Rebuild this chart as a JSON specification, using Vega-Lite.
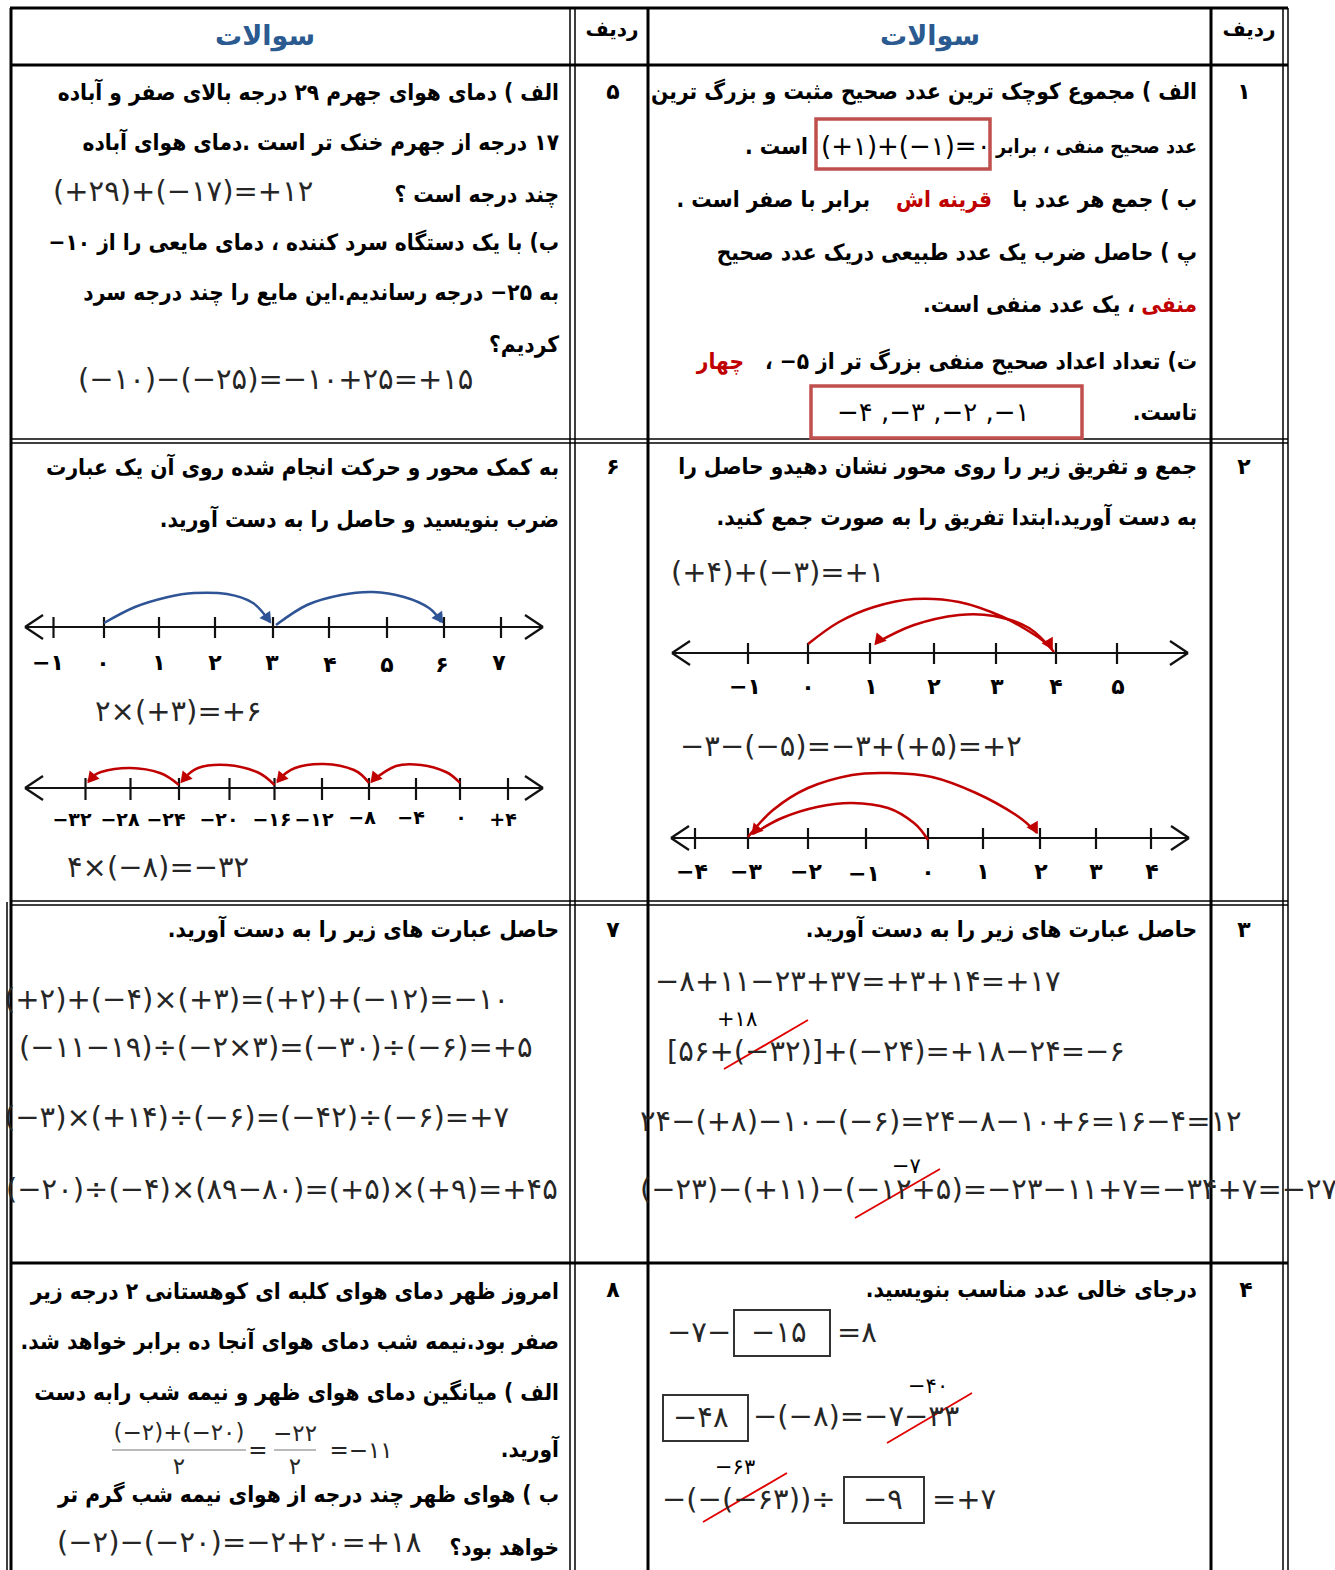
{
"$schema":"https://vega.github.io/schema/vega-lite/v6.json",
"width":1335,"height":1570,"autosize":{"type":"none"},"padding":0,"background":"white",
"config":{"view":{"stroke":null}},
"datasets":{
"rules":[
{"x":10,"y":8,"x2":1288,"y2":8,"k":"t3"},
{"x":10,"y":65,"x2":1288,"y2":65,"k":"t3"},
{"x":10,"y":1263,"x2":1288,"y2":1263,"k":"t3"},
{"x":11,"y":8,"x2":11,"y2":1570,"k":"t3"},
{"x":648,"y":8,"x2":648,"y2":1570,"k":"t3"},
{"x":1211,"y":8,"x2":1211,"y2":1570,"k":"t3"},
{"x":10,"y":439,"x2":1288,"y2":439,"k":"t15"},
{"x":10,"y":443,"x2":1288,"y2":443,"k":"t15"},
{"x":10,"y":901,"x2":1288,"y2":901,"k":"t15"},
{"x":10,"y":905,"x2":1288,"y2":905,"k":"t15"},
{"x":570,"y":8,"x2":570,"y2":1570,"k":"t15"},
{"x":575,"y":8,"x2":575,"y2":1570,"k":"t15"},
{"x":1283,"y":8,"x2":1283,"y2":1570,"k":"t15"},
{"x":1288,"y":8,"x2":1288,"y2":1570,"k":"t15"},
{"x":7,"y":902,"x2":7,"y2":1570,"k":"t15"},
{"x":672,"y":653,"x2":1188,"y2":653,"k":"nl"},
{"x":672,"y":653,"x2":690,"y2":641,"k":"nl"},
{"x":672,"y":653,"x2":690,"y2":665,"k":"nl"},
{"x":1188,"y":653,"x2":1170,"y2":641,"k":"nl"},
{"x":1188,"y":653,"x2":1170,"y2":665,"k":"nl"},
{"x":748,"y":643,"x2":748,"y2":664,"k":"nl"},
{"x":808,"y":643,"x2":808,"y2":664,"k":"nl"},
{"x":870,"y":643,"x2":870,"y2":664,"k":"nl"},
{"x":934,"y":643,"x2":934,"y2":664,"k":"nl"},
{"x":996,"y":643,"x2":996,"y2":664,"k":"nl"},
{"x":1056,"y":643,"x2":1056,"y2":664,"k":"nl"},
{"x":1117,"y":643,"x2":1117,"y2":664,"k":"nl"},
{"x":671,"y":838,"x2":1189,"y2":838,"k":"nl"},
{"x":671,"y":838,"x2":689,"y2":826,"k":"nl"},
{"x":671,"y":838,"x2":689,"y2":850,"k":"nl"},
{"x":1189,"y":838,"x2":1171,"y2":826,"k":"nl"},
{"x":1189,"y":838,"x2":1171,"y2":850,"k":"nl"},
{"x":695,"y":828,"x2":695,"y2":849,"k":"nl"},
{"x":748,"y":828,"x2":748,"y2":849,"k":"nl"},
{"x":808,"y":828,"x2":808,"y2":849,"k":"nl"},
{"x":866,"y":828,"x2":866,"y2":849,"k":"nl"},
{"x":928,"y":828,"x2":928,"y2":849,"k":"nl"},
{"x":983,"y":828,"x2":983,"y2":849,"k":"nl"},
{"x":1040,"y":828,"x2":1040,"y2":849,"k":"nl"},
{"x":1096,"y":828,"x2":1096,"y2":849,"k":"nl"},
{"x":1151,"y":828,"x2":1151,"y2":849,"k":"nl"},
{"x":25,"y":627,"x2":543,"y2":627,"k":"nl"},
{"x":25,"y":627,"x2":43,"y2":615,"k":"nl"},
{"x":25,"y":627,"x2":43,"y2":639,"k":"nl"},
{"x":543,"y":627,"x2":525,"y2":615,"k":"nl"},
{"x":543,"y":627,"x2":525,"y2":639,"k":"nl"},
{"x":53.5,"y":617,"x2":53.5,"y2":638,"k":"nl"},
{"x":104,"y":617,"x2":104,"y2":638,"k":"nl"},
{"x":159,"y":617,"x2":159,"y2":638,"k":"nl"},
{"x":215,"y":617,"x2":215,"y2":638,"k":"nl"},
{"x":273,"y":617,"x2":273,"y2":638,"k":"nl"},
{"x":329,"y":617,"x2":329,"y2":638,"k":"nl"},
{"x":387,"y":617,"x2":387,"y2":638,"k":"nl"},
{"x":444,"y":617,"x2":444,"y2":638,"k":"nl"},
{"x":501,"y":617,"x2":501,"y2":638,"k":"nl"},
{"x":25,"y":788,"x2":543,"y2":788,"k":"nl"},
{"x":25,"y":788,"x2":43,"y2":776,"k":"nl"},
{"x":25,"y":788,"x2":43,"y2":800,"k":"nl"},
{"x":543,"y":788,"x2":525,"y2":776,"k":"nl"},
{"x":543,"y":788,"x2":525,"y2":800,"k":"nl"},
{"x":85.5,"y":778,"x2":85.5,"y2":800,"k":"nl"},
{"x":130.5,"y":778,"x2":130.5,"y2":800,"k":"nl"},
{"x":179,"y":778,"x2":179,"y2":800,"k":"nl"},
{"x":229.5,"y":778,"x2":229.5,"y2":800,"k":"nl"},
{"x":274.5,"y":778,"x2":274.5,"y2":800,"k":"nl"},
{"x":322,"y":778,"x2":322,"y2":800,"k":"nl"},
{"x":369,"y":778,"x2":369,"y2":800,"k":"nl"},
{"x":416,"y":778,"x2":416,"y2":800,"k":"nl"},
{"x":460,"y":778,"x2":460,"y2":800,"k":"nl"},
{"x":508,"y":778,"x2":508,"y2":800,"k":"nl"},
{"x":724,"y":1069,"x2":808,"y2":1020,"k":"strike"},
{"x":855,"y":1218,"x2":940,"y2":1169,"k":"strike"},
{"x":887,"y":1443,"x2":972,"y2":1393,"k":"strike"},
{"x":703,"y":1522,"x2":787,"y2":1473,"k":"strike"},
{"x":112,"y":1450,"x2":246,"y2":1450,"k":"frac"},
{"x":274,"y":1450,"x2":316,"y2":1450,"k":"frac"}
],
"boxes":[
{"x":816,"y":119,"x2":990,"y2":169,"k":"red"},
{"x":811,"y":386,"x2":1082,"y2":438,"k":"red"},
{"x":734,"y":1310,"x2":830,"y2":1356,"k":"blk"},
{"x":663,"y":1395,"x2":748,"y2":1441,"k":"blk"},
{"x":844,"y":1477,"x2":924,"y2":1523,"k":"blk"}
],
"arcs":[
{"a":"A","i":0,"x":808,"y":644,"c":"red"},{"a":"A","i":1,"x":839,"y":622,"c":"red"},{"a":"A","i":2,"x":874,"y":607,"c":"red"},{"a":"A","i":3,"x":914,"y":599,"c":"red"},{"a":"A","i":4,"x":959,"y":602,"c":"red"},{"a":"A","i":5,"x":1003,"y":617,"c":"red"},{"a":"A","i":6,"x":1038,"y":637,"c":"red"},{"a":"A","i":7,"x":1052,"y":649,"c":"red"},
{"a":"B","i":0,"x":1054,"y":652,"c":"red"},{"a":"B","i":1,"x":1029,"y":628,"c":"red"},{"a":"B","i":2,"x":994,"y":616,"c":"red"},{"a":"B","i":3,"x":959,"y":615,"c":"red"},{"a":"B","i":4,"x":914,"y":625,"c":"red"},{"a":"B","i":5,"x":876,"y":643,"c":"red"},
{"a":"C","i":0,"x":928,"y":840,"c":"red"},{"a":"C","i":1,"x":914,"y":823,"c":"red"},{"a":"C","i":2,"x":888,"y":808,"c":"red"},{"a":"C","i":3,"x":852,"y":803,"c":"red"},{"a":"C","i":4,"x":817,"y":807,"c":"red"},{"a":"C","i":5,"x":782,"y":818,"c":"red"},{"a":"C","i":6,"x":753,"y":834,"c":"red"},
{"a":"D","i":0,"x":748,"y":837,"c":"red"},{"a":"D","i":1,"x":773,"y":810,"c":"red"},{"a":"D","i":2,"x":808,"y":788,"c":"red"},{"a":"D","i":3,"x":852,"y":775,"c":"red"},{"a":"D","i":4,"x":888,"y":773,"c":"red"},{"a":"D","i":5,"x":932,"y":777,"c":"red"},{"a":"D","i":6,"x":976,"y":793,"c":"red"},{"a":"D","i":7,"x":1016,"y":815,"c":"red"},{"a":"D","i":8,"x":1037,"y":833,"c":"red"},
{"a":"E","i":0,"x":104,"y":623,"c":"blue"},{"a":"E","i":1,"x":135,"y":607,"c":"blue"},{"a":"E","i":2,"x":168,"y":597,"c":"blue"},{"a":"E","i":3,"x":194,"y":593,"c":"blue"},{"a":"E","i":4,"x":227,"y":594,"c":"blue"},{"a":"E","i":5,"x":253,"y":603,"c":"blue"},{"a":"E","i":6,"x":270,"y":622,"c":"blue"},
{"a":"F","i":0,"x":276,"y":625,"c":"blue"},{"a":"F","i":1,"x":307,"y":605,"c":"blue"},{"a":"F","i":2,"x":341,"y":595,"c":"blue"},{"a":"F","i":3,"x":373,"y":592,"c":"blue"},{"a":"F","i":4,"x":404,"y":597,"c":"blue"},{"a":"F","i":5,"x":429,"y":608,"c":"blue"},{"a":"F","i":6,"x":441,"y":622,"c":"blue"},
{"a":"G","i":0,"x":460,"y":783,"c":"red"},{"a":"G","i":1,"x":446,"y":772,"c":"red"},{"a":"G","i":2,"x":421,"y":765,"c":"red"},{"a":"G","i":3,"x":396,"y":766,"c":"red"},{"a":"G","i":4,"x":372,"y":781,"c":"red"},
{"a":"H","i":0,"x":369,"y":783,"c":"red"},{"a":"H","i":1,"x":354,"y":770,"c":"red"},{"a":"H","i":2,"x":324,"y":764,"c":"red"},{"a":"H","i":3,"x":295,"y":768,"c":"red"},{"a":"H","i":4,"x":277,"y":781,"c":"red"},
{"a":"I","i":0,"x":274.5,"y":785,"c":"red"},{"a":"I","i":1,"x":257,"y":772,"c":"red"},{"a":"I","i":2,"x":227,"y":765,"c":"red"},{"a":"I","i":3,"x":198,"y":768,"c":"red"},{"a":"I","i":4,"x":182,"y":781,"c":"red"},
{"a":"J","i":0,"x":179,"y":785,"c":"red"},{"a":"J","i":1,"x":160,"y":773,"c":"red"},{"a":"J","i":2,"x":130.5,"y":768,"c":"red"},{"a":"J","i":3,"x":101,"y":772,"c":"red"},{"a":"J","i":4,"x":88,"y":781,"c":"red"}
],
"heads":[
{"x":1050,"y":645,"d":"rr"},{"x":1035,"y":829,"d":"rr"},
{"x":878,"y":641,"d":"rl"},{"x":755,"y":831,"d":"rl"},{"x":374,"y":779,"d":"rl"},{"x":280,"y":779,"d":"rl"},{"x":184,"y":779,"d":"rl"},{"x":91,"y":779,"d":"rl"},
{"x":268,"y":619,"d":"br"},{"x":440,"y":619,"d":"br"}
],
"texts":[
{"x":265,"y":37,"t":"سوالات","k":"hdr"},
{"x":930,"y":37,"t":"سوالات","k":"hdr"},
{"x":612,"y":30,"t":"ردیف","k":"hdr2"},
{"x":1249,"y":30,"t":"ردیف","k":"hdr2"},
{"x":613,"y":92,"t":"۵","k":"num"},
{"x":1244,"y":92,"t":"۱","k":"num"},
{"x":613,"y":467,"t":"۶","k":"num"},
{"x":1244,"y":467,"t":"۲","k":"num"},
{"x":613,"y":930,"t":"۷","k":"num"},
{"x":1244,"y":930,"t":"۳","k":"num"},
{"x":613,"y":1290,"t":"۸","k":"num"},
{"x":1246,"y":1290,"t":"۴","k":"num"},
{"x":1197,"y":92,"t":"\u202bالف ) مجموع کوچک ترین عدد صحیح مثبت و بزرگ ترین\u202c","k":"body"},
{"x":1197,"y":147,"t":"\u202bعدد صحیح منفی ، برابر\u202c","k":"bodys"},
{"x":808,"y":147,"t":"\u202bاست .\u202c","k":"body"},
{"x":1197,"y":200,"t":"\u202bب ) جمع هر عدد با\u202c","k":"body"},
{"x":992,"y":200,"t":"\u202bقرینه اش\u202c","k":"red"},
{"x":870,"y":200,"t":"\u202bبرابر با صفر است .\u202c","k":"body"},
{"x":1197,"y":253,"t":"\u202bپ ) حاصل ضرب یک عدد طبیعی دریک عدد صحیح\u202c","k":"body"},
{"x":1197,"y":305,"t":"\u202bمنفی\u202c","k":"red"},
{"x":1135,"y":305,"t":"\u202b، یک عدد منفی است.\u202c","k":"body"},
{"x":1197,"y":362,"t":"\u202bت) تعداد اعداد صحیح منفی بزرگ تر از  ۵−  ،\u202c","k":"body"},
{"x":744,"y":362,"t":"\u202bچهار\u202c","k":"red"},
{"x":1197,"y":413,"t":"\u202bتاست.\u202c","k":"body"},
{"x":559,"y":93,"t":"\u202bالف ) دمای هوای جهرم  ۲۹  درجه بالای صفر و آباده\u202c","k":"body"},
{"x":559,"y":143,"t":"\u202b۱۷ درجه از جهرم خنک تر است .دمای هوای آباده\u202c","k":"body"},
{"x":559,"y":195,"t":"\u202bچند درجه است ؟\u202c","k":"body"},
{"x":559,"y":243,"t":"\u202bب) با یک دستگاه سرد کننده ، دمای مایعی را از  ۱۰−\u202c","k":"body"},
{"x":559,"y":293,"t":"\u202bبه  ۲۵−  درجه رساندیم.این مایع را چند درجه سرد\u202c","k":"body"},
{"x":559,"y":345,"t":"\u202bکردیم؟\u202c","k":"body"},
{"x":1197,"y":467,"t":"\u202bجمع و تفریق زیر را روی محور نشان دهیدو حاصل را\u202c","k":"body"},
{"x":1197,"y":518,"t":"\u202bبه دست آورید.ابتدا تفریق را به صورت جمع کنید.\u202c","k":"body"},
{"x":559,"y":468,"t":"\u202bبه کمک محور و حرکت انجام شده روی آن یک عبارت\u202c","k":"body"},
{"x":559,"y":520,"t":"\u202bضرب بنویسید و حاصل را به دست آورید.\u202c","k":"body"},
{"x":1197,"y":930,"t":"\u202bحاصل عبارت های زیر را به دست آورید.\u202c","k":"body"},
{"x":559,"y":930,"t":"\u202bحاصل عبارت های زیر را به دست آورید.\u202c","k":"body"},
{"x":1197,"y":1290,"t":"\u202bدرجای خالی عدد مناسب بنویسید.\u202c","k":"body"},
{"x":559,"y":1292,"t":"\u202bامروز ظهر دمای هوای کلبه ای کوهستانی  ۲  درجه زیر\u202c","k":"body"},
{"x":559,"y":1342,"t":"\u202bصفر بود.نیمه شب دمای هوای آنجا ده برابر خواهد شد.\u202c","k":"body"},
{"x":559,"y":1393,"t":"\u202bالف ) میانگین دمای هوای ظهر و نیمه شب رابه دست\u202c","k":"body"},
{"x":559,"y":1450,"t":"\u202bآورید.\u202c","k":"body"},
{"x":559,"y":1495,"t":"\u202bب ) هوای ظهر چند درجه از هوای نیمه شب گرم تر\u202c","k":"body"},
{"x":559,"y":1548,"t":"\u202bخواهد بود؟\u202c","k":"body"},
{"x":821,"y":147,"t":"(+۱)+(−۱)=۰","k":"mathb"},
{"x":837,"y":413,"t":"−۴ ,−۳ ,−۲ ,−۱","k":"mathb"},
{"x":53,"y":192,"t":"(+۲۹)+(−۱۷)=+۱۲","k":"math"},
{"x":78,"y":380,"t":"(−۱۰)−(−۲۵)=−۱۰+۲۵=+۱۵","k":"math"},
{"x":671,"y":573,"t":"(+۴)+(−۳)=+۱","k":"math"},
{"x":680,"y":747,"t":"−۳−(−۵)=−۳+(+۵)=+۲","k":"math"},
{"x":95,"y":712,"t":"۲×(+۳)=+۶","k":"math"},
{"x":67,"y":868,"t":"۴×(−۸)=−۳۲","k":"math"},
{"x":655,"y":982,"t":"−۸+۱۱−۲۳+۳۷=+۳+۱۴=+۱۷","k":"math"},
{"x":667,"y":1052,"t":"[۵۶+(−۳۲)]+(−۲۴)=+۱۸−۲۴=−۶","k":"math"},
{"x":640,"y":1122,"t":"۲۴−(+۸)−۱۰−(−۶)=۲۴−۸−۱۰+۶=۱۶−۴=۱۲","k":"math"},
{"x":640,"y":1190,"t":"(−۲۳)−(+۱۱)−(−۱۲+۵)=−۲۳−۱۱+۷=−۳۴+۷=−۲۷","k":"math"},
{"x":4,"y":1000,"t":"(+۲)+(−۴)×(+۳)=(+۲)+(−۱۲)=−۱۰","k":"math"},
{"x":19,"y":1048,"t":"(−۱۱−۱۹)÷(−۲×۳)=(−۳۰)÷(−۶)=+۵","k":"math"},
{"x":4,"y":1118,"t":"(−۳)×(+۱۴)÷(−۶)=(−۴۲)÷(−۶)=+۷","k":"math"},
{"x":6,"y":1190,"t":"(−۲۰)÷(−۴)×(۸۹−۸۰)=(+۵)×(+۹)=+۴۵","k":"math"},
{"x":667,"y":1333,"t":"−۷−","k":"math"},
{"x":751,"y":1333,"t":"−۱۵","k":"math"},
{"x":837,"y":1333,"t":"=۸","k":"math"},
{"x":673,"y":1418,"t":"−۴۸","k":"math"},
{"x":753,"y":1417,"t":"−(−۸)=−۷−۳۳","k":"math"},
{"x":662,"y":1500,"t":"−(−(−۶۳))÷","k":"math"},
{"x":863,"y":1500,"t":"−۹","k":"math"},
{"x":932,"y":1500,"t":"=+۷","k":"math"},
{"x":57,"y":1543,"t":"(−۲)−(−۲۰)=−۲+۲۰=+۱۸","k":"math"},
{"x":717,"y":1020,"t":"+۱۸","k":"ann"},
{"x":892,"y":1167,"t":"−۷","k":"ann"},
{"x":908,"y":1387,"t":"−۴۰","k":"ann"},
{"x":715,"y":1468,"t":"−۶۳","k":"ann"},
{"x":179,"y":1433,"t":"(−۲)+(−۲۰)","k":"mathc"},
{"x":179,"y":1467,"t":"۲","k":"mathc"},
{"x":258,"y":1451,"t":"=","k":"mathc"},
{"x":295,"y":1434,"t":"−۲۲","k":"mathc"},
{"x":295,"y":1467,"t":"۲","k":"mathc"},
{"x":361,"y":1451,"t":"=−۱۱","k":"mathc"},
{"x":745,"y":687,"t":"−۱","k":"lbl"},{"x":808,"y":687,"t":"۰","k":"lbl"},{"x":871,"y":687,"t":"۱","k":"lbl"},{"x":934,"y":687,"t":"۲","k":"lbl"},{"x":997,"y":687,"t":"۳","k":"lbl"},{"x":1056,"y":687,"t":"۴","k":"lbl"},{"x":1118,"y":687,"t":"۵","k":"lbl"},
{"x":692,"y":872,"t":"−۴","k":"lbl"},{"x":746,"y":872,"t":"−۳","k":"lbl"},{"x":806,"y":872,"t":"−۲","k":"lbl"},{"x":864,"y":874,"t":"−۱","k":"lbl"},{"x":928,"y":872,"t":"۰","k":"lbl"},{"x":983,"y":872,"t":"۱","k":"lbl"},{"x":1041,"y":872,"t":"۲","k":"lbl"},{"x":1096,"y":872,"t":"۳","k":"lbl"},{"x":1152,"y":872,"t":"۴","k":"lbl"},
{"x":48,"y":663,"t":"−۱","k":"lbl"},{"x":103,"y":663,"t":"۰","k":"lbl"},{"x":159,"y":663,"t":"۱","k":"lbl"},{"x":215,"y":663,"t":"۲","k":"lbl"},{"x":272,"y":663,"t":"۳","k":"lbl"},{"x":330,"y":665,"t":"۴","k":"lbl"},{"x":387,"y":665,"t":"۵","k":"lbl"},{"x":442,"y":665,"t":"۶","k":"lbl"},{"x":499,"y":663,"t":"۷","k":"lbl"},
{"x":72,"y":820,"t":"−۳۲","k":"lbls"},{"x":120,"y":820,"t":"−۲۸","k":"lbls"},{"x":166,"y":820,"t":"−۲۴","k":"lbls"},{"x":219,"y":820,"t":"−۲۰","k":"lbls"},{"x":272,"y":820,"t":"−۱۶","k":"lbls"},{"x":314,"y":820,"t":"−۱۲","k":"lbls"},{"x":362,"y":818,"t":"−۸","k":"lbls"},{"x":411,"y":818,"t":"−۴","k":"lbls"},{"x":461,"y":818,"t":"۰","k":"lbls"},{"x":503,"y":820,"t":"+۴","k":"lbls"}
]
},
"encoding":{
"x":{"field":"x","type":"quantitative","scale":{"domain":[0,1335],"nice":false,"zero":false},"axis":null},
"y":{"field":"y","type":"quantitative","scale":{"domain":[0,1570],"nice":false,"zero":false,"reverse":true},"axis":null}
},
"layer":[
{"data":{"name":"rules"},"transform":[{"filter":"datum.k==='t3'"}],"mark":{"type":"rule","color":"#000","strokeWidth":3},"encoding":{"x2":{"field":"x2"},"y2":{"field":"y2"}}},
{"data":{"name":"rules"},"transform":[{"filter":"datum.k==='t15'"}],"mark":{"type":"rule","color":"#000","strokeWidth":1.5},"encoding":{"x2":{"field":"x2"},"y2":{"field":"y2"}}},
{"data":{"name":"rules"},"transform":[{"filter":"datum.k==='nl'"}],"mark":{"type":"rule","color":"#111","strokeWidth":2.2},"encoding":{"x2":{"field":"x2"},"y2":{"field":"y2"}}},
{"data":{"name":"rules"},"transform":[{"filter":"datum.k==='strike'"}],"mark":{"type":"rule","color":"#e00000","strokeWidth":1.8},"encoding":{"x2":{"field":"x2"},"y2":{"field":"y2"}}},
{"data":{"name":"rules"},"transform":[{"filter":"datum.k==='frac'"}],"mark":{"type":"rule","color":"#777","strokeWidth":1.2},"encoding":{"x2":{"field":"x2"},"y2":{"field":"y2"}}},
{"data":{"name":"boxes"},"transform":[{"filter":"datum.k==='red'"}],"mark":{"type":"rect","filled":false,"color":"#c0504d","strokeWidth":3.5},"encoding":{"x2":{"field":"x2"},"y2":{"field":"y2"}}},
{"data":{"name":"boxes"},"transform":[{"filter":"datum.k==='blk'"}],"mark":{"type":"rect","filled":false,"color":"#333","strokeWidth":2},"encoding":{"x2":{"field":"x2"},"y2":{"field":"y2"}}},
{"data":{"name":"arcs"},"transform":[{"filter":"datum.c==='red'"}],"mark":{"type":"line","interpolate":"cardinal","color":"#c00000","strokeWidth":2.5},"encoding":{"detail":{"field":"a"},"order":{"field":"i"}}},
{"data":{"name":"arcs"},"transform":[{"filter":"datum.c==='blue'"}],"mark":{"type":"line","interpolate":"cardinal","color":"#2f5496","strokeWidth":2.5},"encoding":{"detail":{"field":"a"},"order":{"field":"i"}}},
{"data":{"name":"heads"},"transform":[{"filter":"datum.d==='rr'"}],"mark":{"type":"point","shape":"triangle-up","filled":true,"opacity":1,"size":170,"angle":150,"color":"#c00000"}},
{"data":{"name":"heads"},"transform":[{"filter":"datum.d==='rl'"}],"mark":{"type":"point","shape":"triangle-up","filled":true,"opacity":1,"size":170,"angle":220,"color":"#c00000"}},
{"data":{"name":"heads"},"transform":[{"filter":"datum.d==='br'"}],"mark":{"type":"point","shape":"triangle-up","filled":true,"opacity":1,"size":170,"angle":145,"color":"#2f5496"}},
{"data":{"name":"texts"},"transform":[{"filter":"datum.k==='body'"}],"mark":{"type":"text","align":"right","baseline":"middle","font":"DejaVu Sans Condensed, DejaVu Sans","fontWeight":"bold","fontSize":22.5,"color":"#000"},"encoding":{"text":{"field":"t"}}},
{"data":{"name":"texts"},"transform":[{"filter":"datum.k==='bodys'"}],"mark":{"type":"text","align":"right","baseline":"middle","font":"DejaVu Sans Condensed, DejaVu Sans","fontWeight":"bold","fontSize":19.5,"color":"#000"},"encoding":{"text":{"field":"t"}}},
{"data":{"name":"texts"},"transform":[{"filter":"datum.k==='red'"}],"mark":{"type":"text","align":"right","baseline":"middle","font":"DejaVu Sans Condensed, DejaVu Sans","fontWeight":"bold","fontSize":22.5,"color":"#c00000"},"encoding":{"text":{"field":"t"}}},
{"data":{"name":"texts"},"transform":[{"filter":"datum.k==='math'"}],"mark":{"type":"text","align":"left","baseline":"middle","font":"DejaVu Sans","fontSize":29,"color":"#262626"},"encoding":{"text":{"field":"t"}}},
{"data":{"name":"texts"},"transform":[{"filter":"datum.k==='mathb'"}],"mark":{"type":"text","align":"left","baseline":"middle","font":"DejaVu Sans","fontSize":26,"color":"#000"},"encoding":{"text":{"field":"t"}}},
{"data":{"name":"texts"},"transform":[{"filter":"datum.k==='mathc'"}],"mark":{"type":"text","align":"center","baseline":"middle","font":"DejaVu Sans","fontSize":23,"color":"#262626"},"encoding":{"text":{"field":"t"}}},
{"data":{"name":"texts"},"transform":[{"filter":"datum.k==='ann'"}],"mark":{"type":"text","align":"left","baseline":"middle","font":"DejaVu Sans","fontSize":21,"color":"#000"},"encoding":{"text":{"field":"t"}}},
{"data":{"name":"texts"},"transform":[{"filter":"datum.k==='lbl'"}],"mark":{"type":"text","align":"center","baseline":"middle","font":"DejaVu Sans","fontWeight":"bold","fontSize":22,"color":"#000"},"encoding":{"text":{"field":"t"}}},
{"data":{"name":"texts"},"transform":[{"filter":"datum.k==='lbls'"}],"mark":{"type":"text","align":"center","baseline":"middle","font":"DejaVu Sans","fontWeight":"bold","fontSize":19,"color":"#000"},"encoding":{"text":{"field":"t"}}},
{"data":{"name":"texts"},"transform":[{"filter":"datum.k==='num'"}],"mark":{"type":"text","align":"center","baseline":"middle","font":"DejaVu Sans","fontWeight":"bold","fontSize":22,"color":"#000"},"encoding":{"text":{"field":"t"}}},
{"data":{"name":"texts"},"transform":[{"filter":"datum.k==='hdr'"}],"mark":{"type":"text","align":"center","baseline":"middle","font":"DejaVu Sans","fontWeight":"bold","fontSize":27,"color":"#2a5a8f"},"encoding":{"text":{"field":"t"}}},
{"data":{"name":"texts"},"transform":[{"filter":"datum.k==='hdr2'"}],"mark":{"type":"text","align":"center","baseline":"middle","font":"DejaVu Sans","fontWeight":"bold","fontSize":20,"color":"#000"},"encoding":{"text":{"field":"t"}}}
]
}
